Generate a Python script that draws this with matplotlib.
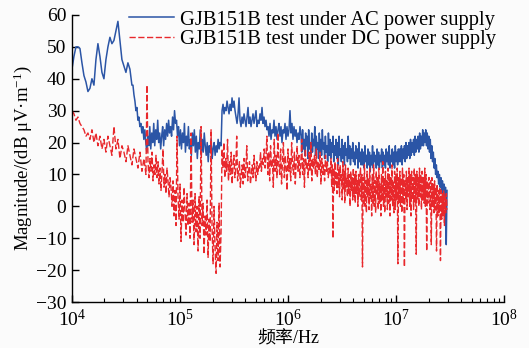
import numpy as np
import matplotlib
matplotlib.use("Agg")
import matplotlib.pyplot as plt
from matplotlib.ticker import LogLocator

plt.rcParams['font.family'] = ['Liberation Serif', 'Noto Sans CJK SC']
plt.rcParams['mathtext.fontset'] = 'custom'
plt.rcParams['mathtext.rm'] = 'Liberation Serif'
plt.rcParams['mathtext.it'] = 'Liberation Serif:italic'
plt.rcParams['font.size'] = 14

# ---- data (dB uV/m), each block spread over its own frequency span ----
ac_spans = [(1.0e4, 3.59e4), (3.67e4, 2.40e5), (2.45e5, 1.29e6), (1.32e6, 2.96e7)]
ac_low = [43, 47, 50, 50, 49.5, 45, 41, 39, 36, 37, 40, 38, 46, 51, 47, 42, 40, 46, 50, 53,
          51, 52, 55, 58, 52, 46, 44, 42, 45, 43, 38]
ac_mid = [38, 35, 33, 30, 31, 27, 28, 25, 26, 23, 25, 21, 24, 20,
          17, 22, 19, 25, 18, 23, 20, 26, 19, 24, 21, 27, 20, 23, 18, 22, 25, 19, 24, 21,
          26, 22, 27, 23, 25, 22, 28, 24, 30, 26,
          27, 22, 25, 19, 24, 18, 23, 20, 26, 17, 22, 19, 25, 18, 21, 16, 23, 19, 24, 17,
          22, 15, 20, 18, 24, 16, 21, 17, 23, 19,
          16, 20, 14, 19, 17, 21, 15, 18, 20, 16, 19, 17, 21, 18, 20, 19]
ac_high1 = [30, 32, 29, 31, 30, 33, 31, 29, 32, 30, 34, 31, 33, 30,
            28, 26, 29, 34, 27, 25, 28, 26, 29, 27, 25, 28, 31, 26, 28, 25, 27, 29, 26, 28,
            30, 25, 27, 26, 29, 27, 31, 26, 28, 25, 27, 24,
            25, 22, 26, 21, 24, 23, 27, 22, 25, 21, 24, 26, 22, 25, 20, 24, 23, 26, 21, 25,
            22, 24, 30, 23, 26, 21, 25, 22, 24, 20, 23, 21, 25]
ac_high2 = [22, 17, 24, 18, 21, 16, 23, 19, 22, 15, 24, 18, 20, 16, 23, 17, 21, 19, 25, 16,
            22, 18, 20, 15, 23, 17, 21, 16, 24, 18, 20, 15, 22, 17, 19, 14, 23, 16, 21, 15,
            20, 17, 22, 14, 19, 16, 21, 15, 20, 13, 22, 16, 18, 14, 21, 15, 19, 13, 20, 16,
            18, 14, 22, 15, 19, 13, 18, 15, 20, 14, 17, 13, 19, 15, 18, 12, 20, 14, 17, 13,
            18, 13, 17, 12, 19, 14, 16, 12, 18, 13, 17, 11, 16, 13, 19, 12, 17, 14, 16, 12,
            18, 13, 17, 12, 16, 14, 18, 12, 17, 13, 16, 12, 18, 14, 17, 13, 19, 12, 16, 14,
            18, 13, 17, 12, 19, 14, 17, 13, 18, 14,
            18, 14, 19, 13, 18, 15, 19, 14, 20, 15, 19, 16, 20, 15, 21, 16, 20, 17, 21, 16,
            22, 17, 21, 18, 22, 17, 23, 18, 22, 19, 24, 19, 23, 20, 24, 19,
            23, 18, 22, 17, 21, 15, 19, 14, 17, 12, 15, 10, 13, 9, 11, 7, 10, 6, 9, 5,
            8, 4, 7, 3, 6, -12, 5]

dc_spans = [(1.0e4, 4.84e4), (4.95e4, 2.40e5), (2.45e5, 2.45e6), (2.50e6, 2.96e7)]
dc_low = [30, 29, 27, 28, 26, 25, 24, 22, 23, 21, 24, 20, 23, 19, 22, 18, 21, 17, 22, 19,
          16, 25, 18, 21, 15, 19, 17, 14, 19, 16, 13, 18, 15, 12, 17, 11, 15, 10]
dc_mid = [38, 14, 9, 15, 11, 17, 8, 13, 10, 16,
          9, 14, 7, 12, 5, 11, 18, 6, 10, 4, 12, 8, 3, 9,
          6, 0, 8, -3, 5, -6, 22, 3, -4, 7, -11, 2, -5, 6, -2, -9, 4, -6, 1, -10,
          23, -5, 2, -12, 4, -8, 0, -14, 3, -10, 25, -6, 1, -15, -3, -9, 2, -16, -4, -11,
          24, -7, -18, 0, -13, -21, -5, -17, 1, -19, -8]
dc_high1 = [18, 12, 20, 9, 15, 11, 21, 8, 14, 10, 17, 7, 13, 16, 9, 12, 22, 8, 11, 14,
            6, 10, 13, 7, 15, 9, 12, 19, 8, 11, 14, 7, 10, 13, 9, 16, 11, 8, 14, 10,
            13, 12, 17, 11, 15, 13, 18, 12, 16,
            22, 10, 17, 8, 19, 12, 15, 6, 21, 11, 16, 9, 23, 13, 10, 18, 7, 14, 20, 9,
            16, 12, 5, 18, 11, 15, 8, 20, 13, 10, 17, 7, 14, 19, 11, 16, 9, 13, 21, 10,
            15, 6, 18, 12, 14, 9, 17, 11, 20, 8, 15, 12, 16, 10, 18, 9, 14, 11, 17, 7,
            15, 10, 13, 8, 16, 11, 14, 9, 12, 10]
dc_high2 = [15, 6, 13, -10, 12, 5, 14, 7, 11, 4, 15, 6, 12, 3, 13, 8, 10, 2, 14, 5,
            11, 1, 13, 6, 9, 3, 12, 4, 10, 0, 11, 5, 9, 2, 12, 3, 10, 1, 11, 4, 8, 0, 10, 3, 9,
            12, 2, 10, -19, 9, 1, 13, 0, 8, -2, 11, 3, 9, -1, 12, 2, 7, -3, 10, 1,
            13, 0, 8, -2, 11, 4, 9, -1, 12, 1, 7, -3, 10, 2, 14, 0, 9, -2, 11, 3,
            8, -1, 12, 1, 10, -3, 9, 2, 13, 0, 8, -2, 11, -1, 10, 2, 12, -18, 9, 1,
            11, 0, 9, -2, 12, 1, 10, -19, 8, 2, 11, -1, 9, 3, 12, 0, 10, -3, 11, 2,
            9, -1, 12, 1, 10, -15, 11, 2, 9, 0, 12, 3, 10, -1, 11, 2, 9, 1, 12, 0,
            10, -14, 8, 1, 9,
            9, -1, 8, -12, 9, 0, 7, -2, 8, -1, 6, -14, 7, -3, 5, -2, 6, -17, 5, -4,
            4, -3, 5, -6, 3, -2, 4, -1]

ac_label = "GJB151B test under AC power supply"
dc_label = "GJB151B test under DC power supply"


def build(spans, blocks):
    f = np.concatenate([np.geomspace(a, b, len(v)) for (a, b), v in zip(spans, blocks)])
    m = np.concatenate([np.asarray(v, float) for v in blocks])
    return f, m


ac_f, ac_m = build(ac_spans, [ac_low, ac_mid, ac_high1, ac_high2])
dc_f, dc_m = build(dc_spans, [dc_low, dc_mid, dc_high1, dc_high2])

fig = plt.figure(figsize=(5.29, 3.48), dpi=100, facecolor='#fbfbfb')
ax = fig.add_axes([0.136, 0.132, 0.817, 0.825])
ax.set_facecolor('#fbfbfb')

ax.plot(ac_f, ac_m, color='#2b55a6', lw=1.1, label=ac_label)
ax.plot(dc_f, dc_m, color='#e8282c', lw=1.0, ls=(0, (4.5, 1.8)), label=dc_label)

ax.set_xscale('log')
ax.set_xlim(1e4, 1e8)
ax.set_ylim(-30, 60)
ax.set_yticks(range(-30, 61, 10))
ax.xaxis.set_minor_locator(LogLocator(base=10, subs=np.arange(2, 10)))

for s in ['top', 'right']:
    ax.spines[s].set_visible(False)
for s in ['left', 'bottom']:
    ax.spines[s].set_linewidth(1.0)
ax.tick_params(which='both', direction='in', top=False, right=False, labelsize=14)
ax.tick_params(which='major', length=5, width=1.0)
ax.tick_params(which='minor', length=3, width=0.8)
ax.tick_params(axis='x', pad=5)
ax.tick_params(axis='y', pad=4)

ax.set_xlabel("频率/Hz", fontsize=13, labelpad=0)
ax.set_ylabel(r"Magnitude/(dB μV·m$^{-1}$)", fontsize=13.5, labelpad=1)

ax.legend(loc='upper right', bbox_to_anchor=(1.0, 1.045), frameon=False, fontsize=14.8,
          handlelength=2.2, handletextpad=0.3, labelspacing=0.0, borderaxespad=0)

fig.savefig("out.png", dpi=100, facecolor=fig.get_facecolor())
